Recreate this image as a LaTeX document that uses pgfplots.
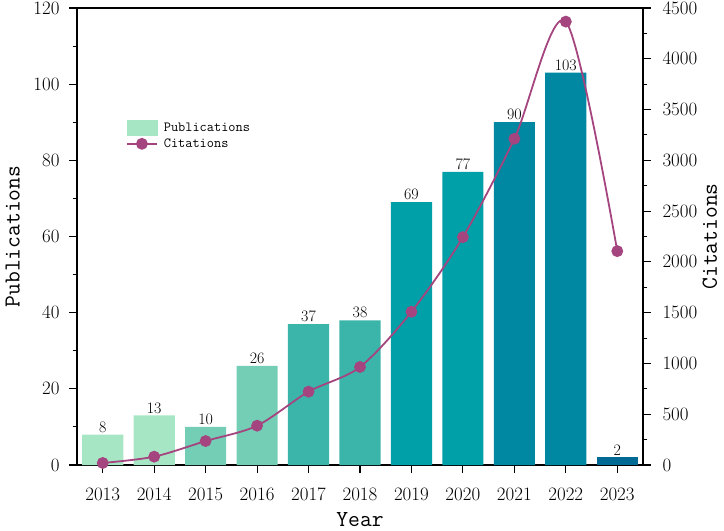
\documentclass[border=0pt]{standalone}
\usepackage{fontspec}
\usepackage{pgfplots}
\pgfplotsset{compat=1.18}
\definecolor{c1}{HTML}{A6E6C4}
\definecolor{c2}{HTML}{74CEB5}
\definecolor{c3}{HTML}{3BB5AA}
\definecolor{c4}{HTML}{00A0A8}
\definecolor{c5}{HTML}{0087A1}
\definecolor{c6}{HTML}{006A95}
\definecolor{cit}{HTML}{A5457F}
\pgfplotsset{
  linelegend/.style={legend image code/.code={\draw[##1, mark repeat=2, mark phase=2] plot coordinates {(0bp,0bp) (15bp,0bp) (30bp,0bp)};}},
  boxlegend/.style={legend image code/.code={\fill[c1] (0bp,-7.5bp) rectangle (30bp,7.5bp);}},
}
\begin{document}
\begin{tikzpicture}
\pgfplotsset{
  every axis/.append style={
    scale only axis, width=566bp, height=457bp,
    xmin=2012.5, xmax=2023.5,
    axis line style={line width=1.3bp},
    tick style={line width=1.1bp, black},
    tick align=outside,
    major tick length=8bp, minor tick length=4.5bp,
    /pgf/number format/assume math mode=true,
    /pgf/number format/1000 sep={},
    tick label style={font=\fontsize{19}{19}\selectfont},
    label style={font=\ttfamily\fontsize{23}{23}\selectfont, inner sep=0pt},
  }
}
\begin{axis}[
  axis x line*=bottom, axis y line*=left,
  ymin=0, ymax=120, ytick={0,20,...,120}, minor y tick num=1,
  xtick={2013,...,2023}, minor x tick num=1,
  xticklabel style={yshift=-11bp},
  yticklabel style={xshift=-6bp},
  ybar, bar width=0.8, bar shift=0pt,
  xlabel={Year}, ylabel={Publications},
  xlabel style={at={(axis description cs:0.5,0)}, anchor=south, yshift=-62bp},
  ylabel style={at={(axis description cs:-0.1265,0.5)}, anchor=north},
  nodes near coords,
  nodes near coords style={font=\fontsize{16}{16}\selectfont, black, inner sep=2bp},
]
\addplot[fill=c1, draw=none] coordinates {(2013,8) (2014,13)};
\addplot[fill=c2, draw=none] coordinates {(2015,10) (2016,26)};
\addplot[fill=c3, draw=none] coordinates {(2017,37) (2018,38)};
\addplot[fill=c4, draw=none] coordinates {(2019,69) (2020,77)};
\addplot[fill=c5, draw=none] coordinates {(2021,90) (2022,103)};
\addplot[fill=c6, draw=none] coordinates {(2023,2)};
\end{axis}
\begin{axis}[
  axis x line*=top, axis y line*=right, xtick=\empty,
  ymin=0, ymax=4500, ytick={0,500,...,4500}, minor y tick num=1,
  yticklabel style={xshift=8bp},
  ylabel={Citations},
  ylabel style={at={(axis description cs:1.1315,0.5)}, anchor=south},
  legend style={at={(0.081,0.759)}, anchor=north west, draw=none, fill=none,
    font=\ttfamily\fontsize{14}{14}\selectfont, row sep=1bp, column sep=4bp},
  legend cell align=left,
]
\addlegendimage{boxlegend}
\addlegendentry{Publications}
\addplot[cit, line width=1.8bp, smooth, tension=0.5, mark=*, mark size=5bp, mark options={fill=cit}, linelegend]
  coordinates {(2013,20) (2014,82) (2015,236) (2016,387) (2017,722) (2018,965) (2019,1509) (2020,2244) (2021,3212) (2022,4366) (2023,2106)};
\addlegendentry{Citations}
\end{axis}
\pgfresetboundingbox
\path ([xshift=-77bp,yshift=-66bp]current axis.south west) rectangle ([xshift=81bp,yshift=8bp]current axis.north east);
\end{tikzpicture}
\end{document}
